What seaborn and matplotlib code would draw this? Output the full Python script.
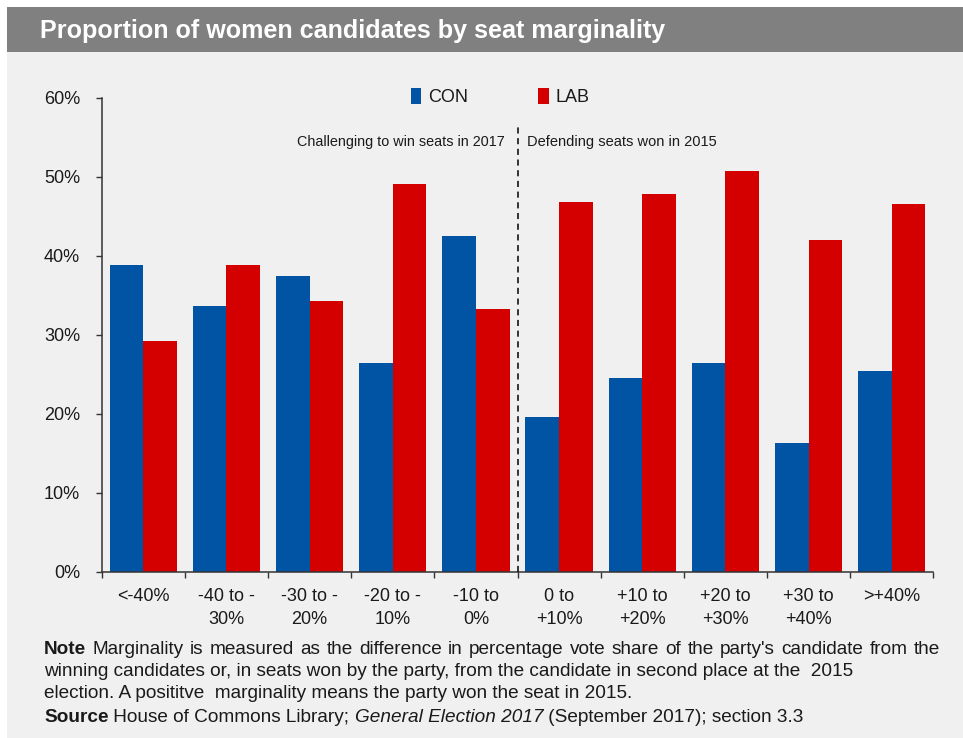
import pandas as pd
import matplotlib.pyplot as plt
import seaborn as sns
from matplotlib.patches import Rectangle, Patch
from matplotlib.ticker import FixedLocator, FuncFormatter

# Data (percent of candidates who are women)
bands = ["<-40%", "-40 to -\n30%", "-30 to -\n20%", "-20 to -\n10%", "-10 to\n0%",
         "0 to\n+10%", "+10 to\n+20%", "+20 to\n+30%", "+30 to\n+40%", ">+40%"]
con_share = [38.8, 33.7, 37.5, 26.4, 42.5, 19.6, 24.5, 26.4, 16.3, 25.4]
lab_share = [29.2, 38.8, 34.3, 49.1, 33.3, 46.8, 47.8, 50.8, 42.0, 46.6]
parties = ["CON", "LAB"]
colours = {"CON": "#0054a3", "LAB": "#d40000"}

W, H = 963, 738
BG = "#f0f0f0"
TXT = "#1a1a1a"

df = pd.DataFrame({
    "band": bands * 2,
    "party": ["CON"] * len(bands) + ["LAB"] * len(bands),
    "share": con_share + lab_share,
})

sns.set_style("white")
plt.rcParams["font.family"] = ["Liberation Sans", "DejaVu Sans"]

fig = plt.figure(figsize=(W / 100, H / 100), dpi=100)
fig.patch.set_facecolor("white")
fig.canvas.draw()
renderer = fig.canvas.get_renderer()


def fitted_text(x_px, y_px, s, width_px, base=12, **kw):
    # put a text and rescale its size so it spans width_px
    t = fig.text(x_px / W, 1 - y_px / H, s, fontsize=base, **kw)
    w = t.get_window_extent(renderer).width
    t.set_fontsize(base * width_px / w)
    return t


# panel background + title bar
fig.add_artist(Rectangle((7 / W, 0), 1 - 7 / W, 1 - 52 / H, transform=fig.transFigure,
                         facecolor=BG, edgecolor="none", zorder=-2))
fig.add_artist(Rectangle((7 / W, 1 - 52 / H), 1 - 7 / W, 45 / H, transform=fig.transFigure,
                         facecolor="#808080", edgecolor="none", zorder=-2))
fitted_text(40, 31, "Proportion of women candidates by seat marginality", 624,
            color="white", fontweight="bold", va="center", ha="left")

ax = fig.add_axes([101.7 / W, 1 - 571.7 / H, 831.6 / W, (571.7 - 98) / H])
ax.set_facecolor(BG)

sns.barplot(data=df, x="band", y="share", hue="party", palette=colours,
            width=0.81, saturation=1, linewidth=0, legend=False, ax=ax)

ax.set_xlim(-0.5, len(bands) - 0.5)
ax.set_ylim(0, 60)
ax.set_yticks(range(0, 61, 10))
ax.yaxis.set_major_formatter(FuncFormatter(lambda v, p: f"{v:.0f}%"))
ax.set_xlabel("")
ax.set_ylabel("")

for s in ["top", "right"]:
    ax.spines[s].set_visible(False)
for s in ["left", "bottom"]:
    ax.spines[s].set_color("#333333")
    ax.spines[s].set_linewidth(1.1)

ax.tick_params(axis="y", length=4.5, width=1, color="#333333", labelsize=13,
               labelcolor=TXT, pad=11, left=True)
ax.tick_params(axis="x", which="major", length=0, labelsize=13, labelcolor=TXT, pad=12)
ax.xaxis.set_minor_locator(FixedLocator([i - 0.5 for i in range(len(bands) + 1)]))
ax.tick_params(axis="x", which="minor", length=4.5, width=1, color="#333333", bottom=True)
for lbl in ax.get_xticklabels():
    lbl.set_linespacing(1.45)

# divider between challenging and defending seats
ax.plot([4.5, 4.5], [0, 56.5], color="black", linestyle=(0, (4, 3)), linewidth=1.1,
        zorder=3, clip_on=False)
ax.text(4.35, 54.4, "Challenging to win seats in 2017", ha="right", va="center",
        fontsize=10.4, color=TXT)
ax.text(4.61, 54.4, "Defending seats won in 2015", ha="left", va="center",
        fontsize=10.5, color=TXT)

handles = [Patch(facecolor=colours[p], edgecolor="none") for p in parties]
fig.legend(handles, parties, ncol=2, loc="center",
           bbox_to_anchor=(500 / W, 1 - 97 / H), frameon=False,
           handlelength=0.6, handleheight=1.0, handletextpad=0.35,
           columnspacing=3.9, fontsize=13, labelcolor=TXT)

# footnote size taken from the natural-width last line
probe = fitted_text(44, 693, "election. A posititve  marginality means the party won the seat in 2015.",
                    594, color=TXT, va="center", ha="left")
NOTE_SIZE = probe.get_fontsize()


def write_runs(x_px, y_px, runs, size=NOTE_SIZE):
    x = x_px
    for txt, style in runs:
        t = fig.text(x / W, 1 - y_px / H, txt, fontsize=size, color=TXT, va="center",
                     ha="left", fontweight="bold" if style == "b" else "normal",
                     fontstyle="italic" if style == "i" else "normal")
        x = t.get_window_extent(renderer).x1


def write_justified(x_px, y_px, x_end, first_bold, rest, size=NOTE_SIZE):
    words = [(first_bold, "b")] + [(w, "") for w in rest.split()]
    arts = [fig.text(0, 1 - y_px / H, w, fontsize=size, color=TXT, va="center", ha="left",
                     fontweight="bold" if st == "b" else "normal") for w, st in words]
    widths = [a.get_window_extent(renderer).width for a in arts]
    gap = (x_end - x_px - sum(widths)) / (len(arts) - 1)
    x = x_px
    for a, w in zip(arts, widths):
        a.set_x(x / W)
        x += w + gap


write_justified(44, 649, 940, "Note",
                "Marginality is measured as the difference in percentage vote share "
                "of the party's candidate from the")
write_runs(44, 671, [("winning candidates or, in seats won by the party, from the candidate "
                      "in second place at the  2015", "")])
write_runs(44, 718, [("Source", "b"), (" House of Commons Library; ", ""),
                     ("General Election 2017", "i"),
                     (" (September 2017); section 3.3", "")])

fig.savefig("out.png", dpi=100, facecolor=fig.get_facecolor())
